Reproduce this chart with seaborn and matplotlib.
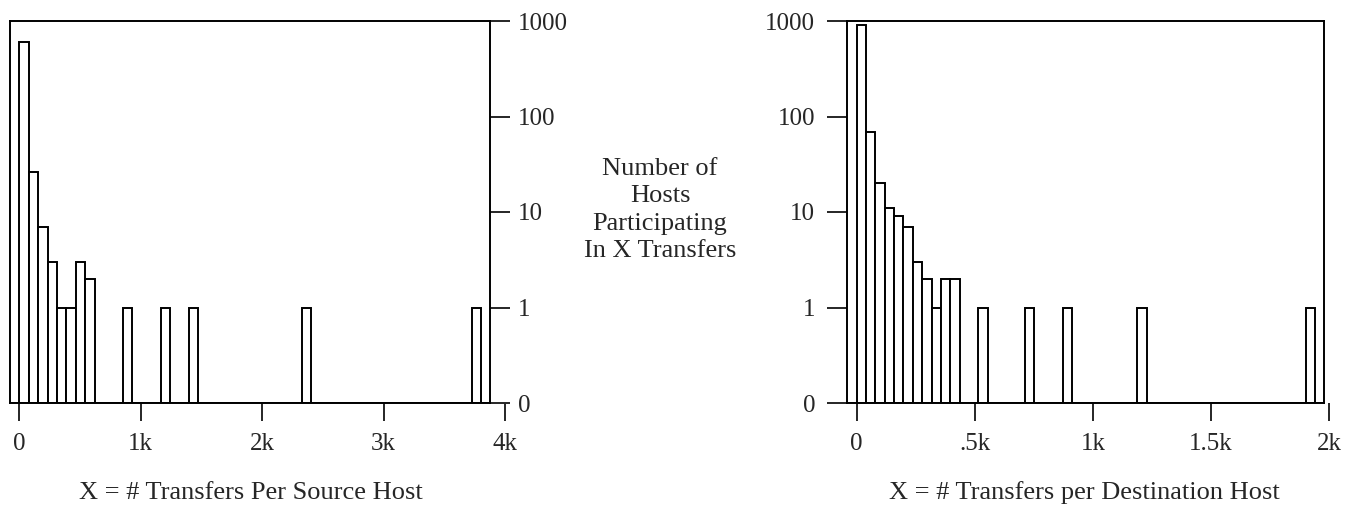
import numpy as np
import pandas as pd
import matplotlib
matplotlib.use("Agg")
import matplotlib.pyplot as plt
import seaborn as sns

# histograms of transfers per host (bin centre -> number of hosts)
src_bin = 77.6
src_x = [39, 116, 194, 272, 349, 427, 504, 582, 892, 1203, 1436, 2367, 3764]
src_hosts = [607, 26, 7, 3, 1, 1, 3, 2, 1, 1, 1, 1, 1]

dst_bin = 39.6
dst_x = [20, 59, 99, 139, 178, 218, 257, 297, 337, 376, 416, 535, 733, 891, 1208, 1921]
dst_hosts = [900, 68, 20, 11, 9, 7, 3, 2, 1, 2, 2, 1, 1, 1, 1, 1]

y_ticks = [0, 1, 10, 100, 1000]
y_labels = ["0", "1", "10", "100", "1000"]
src_ticks = [0, 1000, 2000, 3000, 4000]
src_labels = ["0", "1k", "2k", "3k", "4k"]
dst_ticks = [0, 500, 1000, 1500, 2000]
dst_labels = ["0", ".5k", "1k", "1.5k", "2k"]

sns.set_style("white")
plt.rcParams['font.family'] = ['Liberation Serif', 'DejaVu Serif']


# y axis: 0 at the bottom, then one equal step per decade
def fwd(y):
    y = np.asarray(y, dtype=float)
    return np.where(y >= 1, np.log10(np.maximum(y, 1)) + 1, y)


def inv(v):
    v = np.asarray(v, dtype=float)
    return np.where(v >= 1, 10 ** (np.minimum(v, 10) - 1), v)


def draw_hist(ax, x, hosts, width, xmax, xticks, xlabels, xlabel, yside):
    right = width * 50
    df = pd.DataFrame({"transfers": x, "hosts": hosts})
    sns.histplot(data=df, x="transfers", weights="hosts", binwidth=width,
                 binrange=(-width, right), ax=ax,
                 color="white", edgecolor="black", linewidth=1.4, alpha=1)
    ax.set_yscale("function", functions=(fwd, inv))
    ax.set_ylim(0, 1000)
    ax.set_xlim(-width, xmax)

    for s in ax.spines.values():
        s.set_visible(True)
        s.set_linewidth(1.4)
        s.set_color("black")
    ax.spines["right"].set_position(("data", right))
    ax.spines["top"].set_bounds(-width, right)
    ax.spines["bottom"].set_bounds(-width, right)

    ax.set_xticks(xticks)
    ax.set_xticklabels(xlabels)
    ax.tick_params(axis="x", direction="out", length=13, width=1.4,
                   labelsize=18, pad=8.3, bottom=True)
    ax.set_yticks(y_ticks)
    ax.set_yticklabels(y_labels)
    ax.yaxis.set_minor_locator(matplotlib.ticker.NullLocator())
    if yside == "right":
        ax.yaxis.tick_right()
        ax.tick_params(axis="y", direction="out", length=14.5, width=1.4,
                       labelsize=18, pad=5.5, right=True, left=False)
    else:
        ax.tick_params(axis="y", direction="out", length=14.5, width=1.4,
                       labelsize=18, pad=8.5, left=True, right=False)
    ax.set_ylabel("")
    ax.set_xlabel(xlabel, fontsize=19, va="center")
    ax.grid(False)


fig = plt.figure(figsize=(13.58, 5.16), dpi=100)

ax1 = fig.add_axes([9.88 / 1358, 1 - 403 / 516, 496.4 / 1358, 382 / 516])
draw_hist(ax1, src_x, src_hosts, src_bin, 4010, src_ticks, src_labels,
          "X = # Transfers Per Source Host", "right")
ax1.xaxis.set_label_coords(0.486, -0.2356)

ax2 = fig.add_axes([847.3 / 1358, 1 - 403 / 516, 483.1 / 1358, 382 / 516])
draw_hist(ax2, dst_x, dst_hosts, dst_bin, 2005, dst_ticks, dst_labels,
          "X = # Transfers per Destination Host", "left")
ax2.xaxis.set_label_coords(0.49, -0.2356)

fig.text(660 / 1358, 1 - 210 / 516, "Number of\nHosts\nParticipating\nIn X Transfers",
         ha="center", va="center", fontsize=19, linespacing=1.33)

fig.savefig("out.png", dpi=100)
